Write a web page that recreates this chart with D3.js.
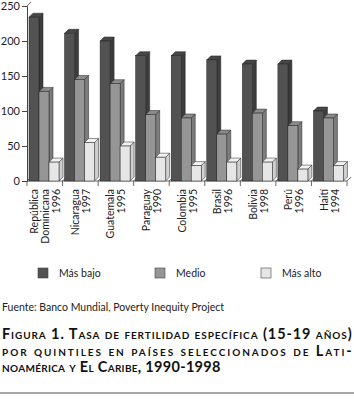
<!DOCTYPE html>
<html>
    <head>
        <meta charset="UTF-8">
        <script src="https://cdn.jsdelivr.net/npm/d3@7"></script>
        <style>
            body { margin: 0; background: #fff; }
            svg { display: block; font-family: "Lato", "DejaVu Sans", sans-serif; }
        </style>
    </head>

    <body>

        <svg id="canvas"></svg>

        <script>

            width = 354;
            height = 408;

            // data
            countries = ["República Dominicana 1996", "Nicaragua 1997", "Guatemala 1995", "Paraguay 1990",
                         "Colombia 1995", "Brasil 1996", "Bolivia 1998", "Perú 1996", "Haití 1994"];
            countryLines = [["República", "Dominicana", "1996"], ["Nicaragua", "1997"], ["Guatemala", "1995"],
                            ["Paraguay", "1990"], ["Colombia", "1995"], ["Brasil", "1996"],
                            ["Bolivia", "1998"], ["Perú", "1996"], ["Haití", "1994"]];
            seriesNames = ["Más bajo", "Medio", "Más alto"];
            masBajo = [234, 211, 200, 179, 179, 173, 167, 167, 100];
            medio   = [128, 145, 139, 95, 90, 67, 97, 79, 90];
            masAlto = [27, 55, 50, 34, 22, 27, 27, 17, 22];
            yTicks = [0, 50, 100, 150, 200, 250];

            series = [masBajo, medio, masAlto];
            front = ["#525252", "#969696", "#e6e6e6"];
            side  = ["#3c3c3c", "#7c7c7c", "#cfcfcf"];
            top_  = ["#474747", "#8a8a8a", "#f2f2f2"];
            depth = 4;

            canvas = d3.select("#canvas")
                .attr("width", width)
                .attr("height", height);

            plot = { left: 27, right: 347, top: 6, bottom: 181 };

            yscale = d3.scaleLinear().domain([0, 250]).range([plot.bottom, plot.top]);
            xscale = d3.scaleBand().domain(d3.range(countries.length)).range([plot.left, plot.right]);
            inner = d3.scaleBand().domain(d3.range(series.length)).range([2, 32]);

            // back wall edge
            canvas.append("path")
                .attr("d", `M${plot.left},${plot.top} L${plot.left + depth},${plot.top - depth}`)
                .attr("style", "fill:none; stroke:#444; stroke-width:0.8;");

            // y axis
            yaxis = canvas.append("g")
                .attr("transform", `translate(${plot.left},0)`)
                .call(d3.axisLeft(yscale).tickValues(yTicks).tickSize(5).tickPadding(2));
            yaxis.select(".domain").attr("stroke", "#444");
            yaxis.selectAll(".tick line").attr("stroke", "#444");
            yaxis.selectAll(".tick text").attr("font-size", 11).attr("fill", "#222")
                .attr("font-family", "Lato, sans-serif");

            // floor line and group ticks
            canvas.append("line")
                .attr("x1", plot.left).attr("x2", plot.right)
                .attr("y1", plot.bottom).attr("y2", plot.bottom)
                .attr("style", "stroke:#444; stroke-width:0.8;");
            bounds = d3.range(countries.length + 1).map(i => plot.left + i * xscale.bandwidth());
            canvas.selectAll(".gtick").data(bounds).enter().append("path")
                .attr("class", "gtick")
                .attr("d", d => `M${d},${plot.bottom + 5} L${d},${plot.bottom} L${d + depth},${plot.bottom - depth}`)
                .attr("style", "fill:none; stroke:#444; stroke-width:0.8;");

            // 3d bars
            groups = canvas.selectAll(".grp").data(countries).enter().append("g")
                .attr("class", "grp")
                .attr("transform", (d, i) => `translate(${xscale(i)},0)`);

            series.forEach(function(vals, s) {
                groups.each(function(c, i) {
                    g = d3.select(this);
                    x = inner(s);
                    w = inner.bandwidth();
                    y = yscale(vals[i]);
                    y0 = yscale(0);
                    g.append("path")
                        .attr("d", `M${x + w},${y} L${x + w + depth},${y - depth} L${x + w + depth},${y0 - depth} L${x + w},${y0}Z`)
                        .attr("fill", side[s]).attr("stroke", "#222").attr("stroke-width", 0.5);
                    g.append("path")
                        .attr("d", `M${x},${y} L${x + depth},${y - depth} L${x + w + depth},${y - depth} L${x + w},${y}Z`)
                        .attr("fill", top_[s]).attr("stroke", "#222").attr("stroke-width", 0.5);
                    g.append("rect")
                        .attr("x", x).attr("y", y).attr("width", w).attr("height", y0 - y)
                        .attr("fill", front[s]).attr("stroke", "#222").attr("stroke-width", 0.5);
                });
            });

            // category labels, rotated
            lineGap = 11;
            canvas.selectAll(".clab").data(countryLines).enter().append("g")
                .attr("class", "clab")
                .each(function(lines, i) {
                    cx = xscale(i) + xscale.bandwidth() / 2;
                    n = lines.length;
                    d3.select(this).selectAll("text").data(lines).enter().append("text")
                        .attr("transform", (d, k) => `translate(${cx + (k - (n - 1) / 2) * lineGap + 4},189) rotate(-90)`)
                        .attr("text-anchor", "end")
                        .attr("font-size", 10.5)
                        .attr("fill", "#222")
                        .text(d => d);
                });

            // legend
            legendX = [38, 155, 261];
            legend = canvas.selectAll(".leg").data(seriesNames).enter().append("g")
                .attr("class", "leg")
                .attr("transform", (d, i) => `translate(${legendX[i]},268)`);
            legend.append("rect")
                .attr("width", 10).attr("height", 10)
                .attr("fill", (d, i) => front[i]).attr("stroke", "#444").attr("stroke-width", 0.6);
            legend.append("text")
                .attr("x", 21).attr("y", 9)
                .attr("font-size", 10.5).attr("fill", "#222")
                .text(d => d);

            // source
            canvas.append("text")
                .attr("x", 2).attr("y", 311)
                .attr("font-size", 10.5).attr("fill", "#222")
                .text("Fuente: Banco Mundial, Poverty Inequity Project");

            // caption
            caption = ["Figura 1. Tasa de fertilidad específica (15-19 años)",
                       "por quintiles en países seleccionados de Lati-",
                       "noamérica y El Caribe, 1990-1998"];
            canvas.selectAll(".cap").data(caption).enter().append("text")
                .attr("class", "cap")
                .attr("x", 2)
                .attr("y", (d, i) => 339 + i * 16.5)
                .attr("font-size", 14.5)
                .attr("font-weight", "bold")
                .attr("font-variant", "small-caps")
                .attr("letter-spacing", 0.3)
                .attr("fill", "#111")
                .each(function(d, i) {
                    if (i < 2) d3.select(this).attr("textLength", 350).attr("lengthAdjust", "spacing");
                })
                .text(d => d);

            canvas.append("line")
                .attr("x1", 0).attr("x2", width)
                .attr("y1", 393).attr("y2", 393)
                .attr("style", "stroke:#888; stroke-width:1.5;");

        </script>

    </body>

</html>
